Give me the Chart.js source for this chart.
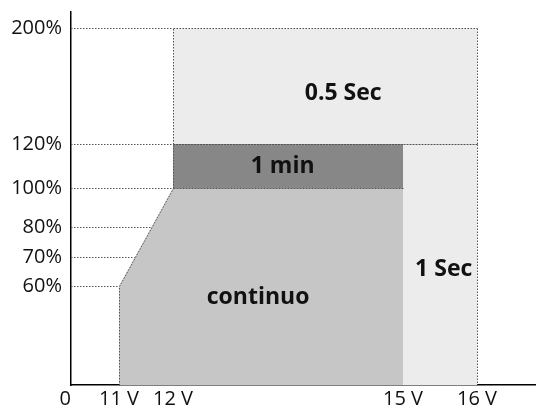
<!DOCTYPE html>
<html>
<head>
<meta charset="utf-8">
<script src="https://cdn.jsdelivr.net/npm/chart.js@4"></script>
<style>
html, body { margin: 0; padding: 0; background: #fff; }
</style>
</head>
<body>
<canvas id="grafico" width="536" height="408"></canvas>
<script>
// ticks dos eixos
const xTickValues = [0, 11, 12, 15, 16];
const xTickLabels = ['0', '11 V', '12 V', '15 V', '16 V'];
const yTickValues = [60, 70, 80, 100, 120, 200];
const yTickLabels = ['60%', '70%', '80%', '100%', '120%', '200%'];

// regioes (tensao V, carga %)
const meioSegX = [12, 12, 16, 16, 12];
const meioSegY = [120, 200, 200, 120, 120];
const umSegX = [15, 15, 16, 16, 15];
const umSegY = [0, 120, 120, 0, 0];
const umMinX = [12, 12, 15, 15, 12];
const umMinY = [100, 120, 120, 100, 100];
const continuoX = [11, 11, 12, 15, 15, 11];
const continuoY = [0, 60, 100, 100, 0, 0];

// textos dentro das regioes
const rotulos = ['0.5 Sec', '1 Sec', '1 min', 'continuo'];
const rotuloX = [14.22, 15.55, 13.43, 13.11];
const rotuloY = [155.2, 65.7, 110, 53.3];

// eixos fora de escala (esquematico): largura relativa de cada trecho
const xBreaks = [0, 11, 12, 15, 16, 17];
const xSpans = [48, 54, 230, 74, 59];
const yBreaks = [0, 60, 70, 80, 100, 120, 200, 210];
const ySpans = [99, 29, 30, 39, 44, 116, 16];

const pecas = {
    x: { breaks: xBreaks, spans: xSpans },
    y: { breaks: yBreaks, spans: ySpans }
};

function valorParaDecimal(v, p) {
    const total = p.spans.reduce((a, b) => a + b, 0);
    let acc = 0;
    for (let i = 0; i < p.spans.length; i++) {
        const a = p.breaks[i], b = p.breaks[i + 1];
        if (v <= b || i === p.spans.length - 1) {
            return (acc + (v - a) / (b - a) * p.spans[i]) / total;
        }
        acc += p.spans[i];
    }
}

function decimalParaValor(d, p) {
    const total = p.spans.reduce((a, b) => a + b, 0);
    let pos = d * total, acc = 0;
    for (let i = 0; i < p.spans.length; i++) {
        if (pos <= acc + p.spans[i] || i === p.spans.length - 1) {
            return p.breaks[i] + (pos - acc) / p.spans[i] * (p.breaks[i + 1] - p.breaks[i]);
        }
        acc += p.spans[i];
    }
}

class EscalaQuebrada extends Chart.LinearScale {
    getPixelForValue(value) {
        if (value === null || value === undefined || isNaN(value)) return NaN;
        return this.getPixelForDecimal(valorParaDecimal(value, pecas[this.axis]));
    }
    getValueForPixel(pixel) {
        return decimalParaValor(this.getDecimalForPixel(pixel), pecas[this.axis]);
    }
}
EscalaQuebrada.id = 'quebrada';
EscalaQuebrada.defaults = Chart.LinearScale.defaults;
Chart.register(EscalaQuebrada);

function pontos(xs, ys) {
    return xs.map((x, i) => ({ x: x, y: ys[i] }));
}

function regiao(xs, ys, cor, ordem) {
    return {
        data: pontos(xs, ys),
        showLine: true,
        fill: 'shape',
        backgroundColor: cor,
        borderWidth: 0,
        pointRadius: 0,
        tension: 0,
        order: ordem
    };
}

const contornos = [
    [meioSegX, meioSegY],
    [umSegX, umSegY],
    [umMinX, umMinY],
    [continuoX, continuoY]
];

function tracejado(ctx) {
    ctx.strokeStyle = '#555';
    ctx.lineWidth = 1;
    ctx.setLineDash([1.5, 1.5]);
}

const linhasGuia = {
    id: 'linhasGuia',
    beforeDatasetsDraw(chart) {
        const { ctx, scales: { x, y } } = chart;
        const x0 = x.getPixelForValue(xTickValues[0]);
        const x1 = x.getPixelForValue(xTickValues[xTickValues.length - 1]);
        ctx.save();
        tracejado(ctx);
        yTickValues.forEach(v => {
            const py = Math.round(y.getPixelForValue(v)) + 0.5;
            ctx.beginPath();
            ctx.moveTo(x0, py);
            ctx.lineTo(x1, py);
            ctx.stroke();
        });
        ctx.restore();
    },
    afterDatasetsDraw(chart) {
        // bordas pontilhadas das regioes, sem as verticais em 15 V nem as do eixo
        const { ctx, scales: { x, y } } = chart;
        ctx.save();
        tracejado(ctx);
        contornos.forEach(([xs, ys]) => {
            for (let i = 0; i < xs.length - 1; i++) {
                if (xs[i] === 15 && xs[i + 1] === 15) continue;
                if (ys[i] === 0 && ys[i + 1] === 0) continue;
                ctx.beginPath();
                ctx.moveTo(Math.round(x.getPixelForValue(xs[i])) + 0.5, Math.round(y.getPixelForValue(ys[i])) + 0.5);
                ctx.lineTo(Math.round(x.getPixelForValue(xs[i + 1])) + 0.5, Math.round(y.getPixelForValue(ys[i + 1])) + 0.5);
                ctx.stroke();
            }
        });
        ctx.restore();
    }
};

const textosRegioes = {
    id: 'textosRegioes',
    afterDatasetsDraw(chart) {
        const { ctx, scales: { x, y } } = chart;
        ctx.save();
        ctx.fillStyle = '#111';
        ctx.font = 'bold 23px "Open Sans"';
        ctx.textAlign = 'center';
        ctx.textBaseline = 'middle';
        rotulos.forEach((t, i) => {
            ctx.fillText(t, x.getPixelForValue(rotuloX[i]), y.getPixelForValue(rotuloY[i]));
        });
        ctx.restore();
    }
};

new Chart(document.getElementById('grafico'), {
    type: 'scatter',
    data: {
        datasets: [
            regiao(continuoX, continuoY, '#c6c6c6', 0),
            regiao(umMinX, umMinY, '#878787', 1),
            regiao(umSegX, umSegY, '#ececec', 2),
            regiao(meioSegX, meioSegY, '#ececec', 3)
        ]
    },
    options: {
        responsive: false,
        animation: false,
        layout: { autoPadding: false, padding: { top: 12, right: 0, bottom: 0, left: 0 } },
        plugins: {
            legend: { display: false },
            tooltip: { enabled: false }
        },
        scales: {
            x: {
                type: 'quebrada',
                min: 0,
                max: 17,
                grid: { display: false, drawTicks: false },
                border: { display: true, color: '#000', width: 1.5 },
                afterBuildTicks: s => { s.ticks = xTickValues.map(v => ({ value: v })); },
                afterFit: s => { s.height = 23; s.paddingLeft = 0; s.paddingRight = 0; },
                ticks: {
                    autoSkip: false,
                    maxRotation: 0,
                    padding: 2,
                    color: '#111',
                    font: { family: 'Open Sans', size: 20 },
                    callback: (v, i) => i === 0 ? xTickLabels[i] + '\u2007' : xTickLabels[i]
                }
            },
            y: {
                type: 'quebrada',
                min: 0,
                max: 210,
                grid: { display: false, drawTicks: false },
                border: { display: true, color: '#000', width: 1.5 },
                afterBuildTicks: s => { s.ticks = yTickValues.map(v => ({ value: v })); },
                afterFit: s => { s.width = 71; s.paddingTop = 0; s.paddingBottom = 0; },
                ticks: {
                    autoSkip: false,
                    padding: 9,
                    color: '#111',
                    font: { family: 'Open Sans', size: 20 },
                    callback: (v, i) => yTickLabels[i]
                }
            }
        }
    },
    plugins: [linhasGuia, textosRegioes]
});
</script>
</body>
</html>
